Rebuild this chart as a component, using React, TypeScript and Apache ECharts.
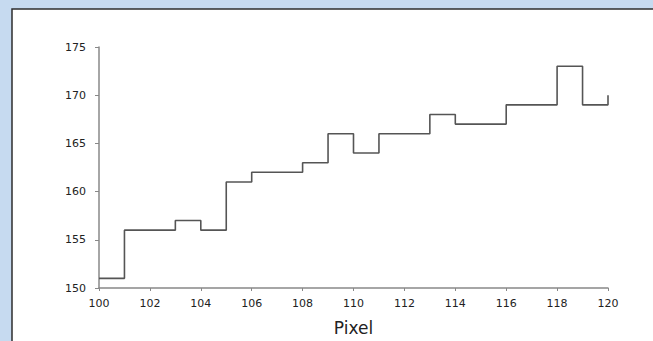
import React, { useEffect, useRef } from "react";
import * as echarts from "echarts";

const pixels = [100, 101, 102, 103, 104, 105, 106, 107, 108, 109, 110, 111, 112, 113, 114, 115, 116, 117, 118, 119, 120];
const values = [151, 156, 156, 157, 156, 161, 162, 162, 163, 166, 164, 166, 166, 168, 167, 167, 169, 169, 173, 169, 170];
const xAxisName = "Pixel";

export default function App() {
  const ref = useRef<HTMLDivElement>(null);
  useEffect(() => {
    if (!ref.current) return;
    const chart = echarts.init(ref.current, null, { renderer: "svg" });
    const font = "DejaVu Sans";
    chart.setOption({
      animation: false,
      backgroundColor: "#c6daf0",
      graphic: [
        {
          type: "rect",
          z: -10,
          silent: true,
          shape: { x: 12, y: 9, width: 700, height: 400 },
          style: { fill: "#ffffff", stroke: "#2e2e2e", lineWidth: 1.5 },
        },
      ],
      grid: { left: 99, top: 47, width: 509, height: 244, containLabel: false },
      xAxis: {
        type: "value",
        min: 100,
        max: 120,
        interval: 2,
        name: xAxisName,
        nameLocation: "middle",
        nameGap: 31,
        nameTextStyle: { fontFamily: font, fontSize: 17, color: "#222" },
        axisLine: { show: true, lineStyle: { color: "#888", width: 1.5 } },
        axisTick: { show: true, length: 3, lineStyle: { color: "#888", width: 1 } },
        axisLabel: { fontFamily: font, fontSize: 11, color: "#222", margin: 10 },
        splitLine: { show: false },
      },
      yAxis: {
        type: "value",
        min: 150,
        max: 175,
        interval: 5,
        axisLine: { show: true, lineStyle: { color: "#888", width: 1.5 } },
        axisTick: { show: true, length: 4, lineStyle: { color: "#888", width: 1 } },
        axisLabel: { fontFamily: font, fontSize: 11, color: "#222", margin: 13 },
        splitLine: { show: false },
      },
      series: [
        {
          type: "line",
          step: "end",
          symbol: "none",
          data: pixels.map((p, i) => [p, values[i]]),
          lineStyle: { color: "#555", width: 1.6 },
        },
      ],
    });
    return () => chart.dispose();
  }, []);
  return (
    <div
      ref={ref}
      style={{ position: "fixed", left: 0, top: 0, width: 653, height: 341 }}
    />
  );
}
